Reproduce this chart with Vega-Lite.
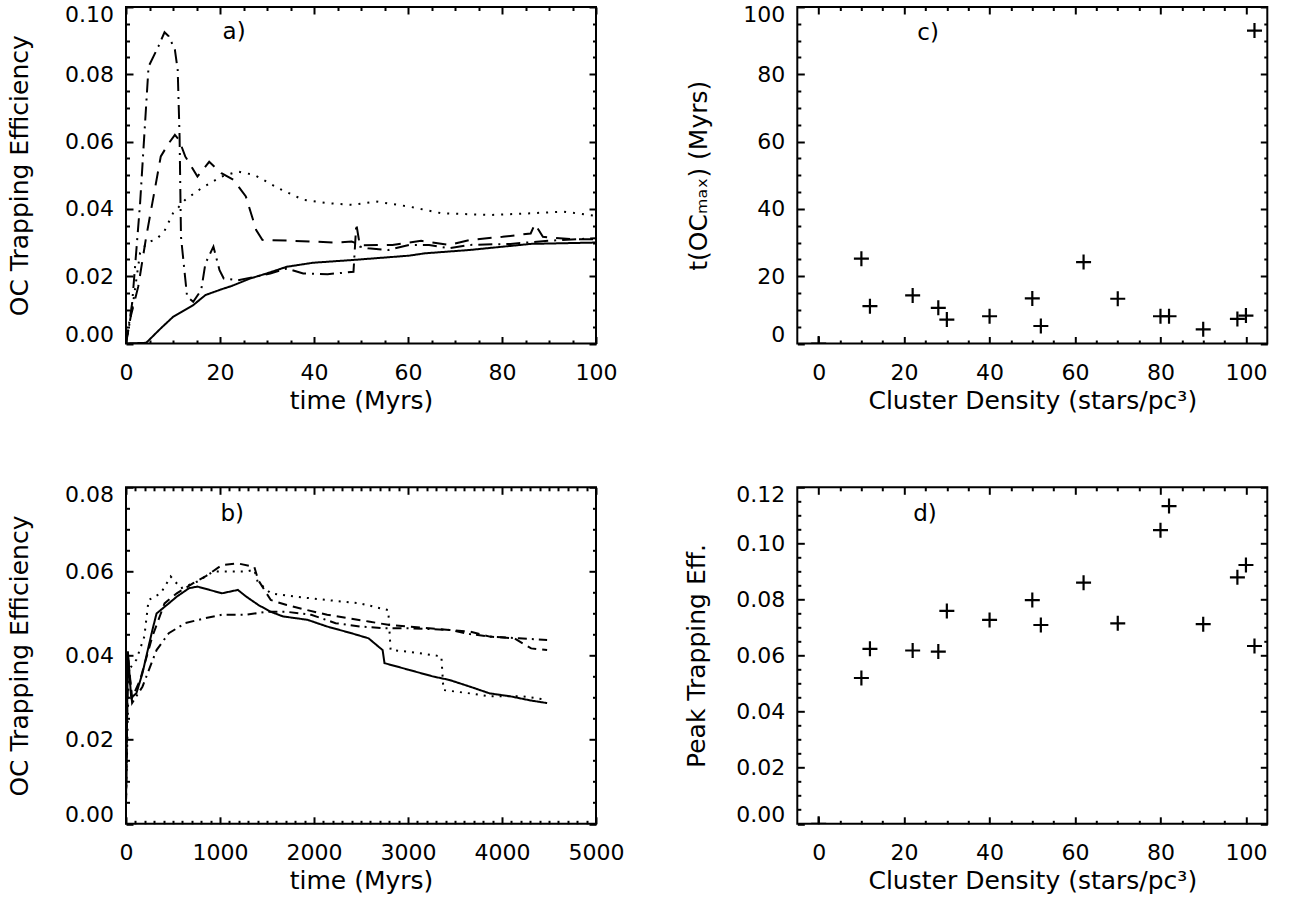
{
  "$schema": "https://vega.github.io/schema/vega-lite/v6.json",
  "background": "white",
  "padding": {"left": 5, "top": 2, "right": 5, "bottom": 5},
  "columns": 2,
  "spacing": {"row": 143.3, "column": 201.3},
  "bounds": "flush",
  "resolve": {"scale": {"strokeDash": "independent"}},
  "config": {
    "font": "DejaVu Sans",
    "view": {"stroke": "black", "strokeWidth": 2},
    "axis": {
      "domain": false, "grid": false,
      "labelFont": "DejaVu Sans", "labelFontSize": 22, "labelColor": "black",
      "titleFont": "DejaVu Sans", "titleFontSize": 25, "titleFontWeight": "normal", "titleColor": "black",
      "tickColor": "black", "tickWidth": 2, "labelOverlap": false, "labelBound": false
    }
  },
  "datasets": {
    "early": [
      {"run": "s1", "t": 0, "v": 0}, {"run": "s1", "t": 4.3, "v": 0.0002}, {"run": "s1", "t": 7.4, "v": 0.0045}, {"run": "s1", "t": 10, "v": 0.0079}, {"run": "s1", "t": 14.3, "v": 0.0114}, {"run": "s1", "t": 16.9, "v": 0.0144}, {"run": "s1", "t": 20.3, "v": 0.0161}, {"run": "s1", "t": 22.5, "v": 0.0171}, {"run": "s1", "t": 26.4, "v": 0.0193}, {"run": "s1", "t": 29.9, "v": 0.0208}, {"run": "s1", "t": 34.2, "v": 0.0228}, {"run": "s1", "t": 39.8, "v": 0.024}, {"run": "s1", "t": 48.1, "v": 0.0248}, {"run": "s1", "t": 60.2, "v": 0.0261}, {"run": "s1", "t": 63.6, "v": 0.0268}, {"run": "s1", "t": 73.2, "v": 0.0278}, {"run": "s1", "t": 86.1, "v": 0.0296}, {"run": "s1", "t": 100, "v": 0.030},
      {"run": "s2", "t": 0, "v": 0}, {"run": "s2", "t": 1, "v": 0.008}, {"run": "s2", "t": 2.6, "v": 0.0169}, {"run": "s2", "t": 4.3, "v": 0.0317}, {"run": "s2", "t": 5.6, "v": 0.0417}, {"run": "s2", "t": 7.4, "v": 0.0556}, {"run": "s2", "t": 9.1, "v": 0.0595}, {"run": "s2", "t": 10.4, "v": 0.062}, {"run": "s2", "t": 11.3, "v": 0.0605}, {"run": "s2", "t": 12.6, "v": 0.0556}, {"run": "s2", "t": 15.2, "v": 0.0496}, {"run": "s2", "t": 17.7, "v": 0.054}, {"run": "s2", "t": 20.3, "v": 0.0506}, {"run": "s2", "t": 22.9, "v": 0.0486}, {"run": "s2", "t": 25.5, "v": 0.0437}, {"run": "s2", "t": 27.7, "v": 0.0337}, {"run": "s2", "t": 29, "v": 0.0308}, {"run": "s2", "t": 34.2, "v": 0.0306}, {"run": "s2", "t": 39.4, "v": 0.0303}, {"run": "s2", "t": 44.6, "v": 0.03}, {"run": "s2", "t": 48, "v": 0.0303}, {"run": "s2", "t": 50.2, "v": 0.0292}, {"run": "s2", "t": 56.7, "v": 0.0293}, {"run": "s2", "t": 62.8, "v": 0.0305}, {"run": "s2", "t": 68.8, "v": 0.0293}, {"run": "s2", "t": 73.2, "v": 0.0308}, {"run": "s2", "t": 80.1, "v": 0.0317}, {"run": "s2", "t": 86.1, "v": 0.0327}, {"run": "s2", "t": 87, "v": 0.0355}, {"run": "s2", "t": 88.7, "v": 0.0317}, {"run": "s2", "t": 94.8, "v": 0.031}, {"run": "s2", "t": 100, "v": 0.031},
      {"run": "s3", "t": 0, "v": 0}, {"run": "s3", "t": 1.3, "v": 0.0119}, {"run": "s3", "t": 3, "v": 0.0417}, {"run": "s3", "t": 4.8, "v": 0.0823}, {"run": "s3", "t": 6.9, "v": 0.0883}, {"run": "s3", "t": 8.2, "v": 0.0925}, {"run": "s3", "t": 9.1, "v": 0.0913}, {"run": "s3", "t": 10.4, "v": 0.0873}, {"run": "s3", "t": 11, "v": 0.0813}, {"run": "s3", "t": 11.4, "v": 0.0615}, {"run": "s3", "t": 11.7, "v": 0.0317}, {"run": "s3", "t": 13, "v": 0.0139}, {"run": "s3", "t": 14.3, "v": 0.0124}, {"run": "s3", "t": 16, "v": 0.0159}, {"run": "s3", "t": 16.9, "v": 0.0238}, {"run": "s3", "t": 18.6, "v": 0.0288}, {"run": "s3", "t": 19.9, "v": 0.0218}, {"run": "s3", "t": 20.8, "v": 0.0193}, {"run": "s3", "t": 23.8, "v": 0.0188}, {"run": "s3", "t": 27.3, "v": 0.0198}, {"run": "s3", "t": 30.7, "v": 0.0208}, {"run": "s3", "t": 34.2, "v": 0.0223}, {"run": "s3", "t": 37.7, "v": 0.0208}, {"run": "s3", "t": 42.9, "v": 0.0206}, {"run": "s3", "t": 48.4, "v": 0.0213}, {"run": "s3", "t": 49, "v": 0.0355}, {"run": "s3", "t": 49.8, "v": 0.0288}, {"run": "s3", "t": 51.5, "v": 0.0283}, {"run": "s3", "t": 55.8, "v": 0.0278}, {"run": "s3", "t": 60.2, "v": 0.0293}, {"run": "s3", "t": 64.5, "v": 0.0293}, {"run": "s3", "t": 68.8, "v": 0.0283}, {"run": "s3", "t": 73.2, "v": 0.0293}, {"run": "s3", "t": 81.8, "v": 0.0296}, {"run": "s3", "t": 90.5, "v": 0.0306}, {"run": "s3", "t": 100, "v": 0.0313},
      {"run": "s4", "t": 0, "v": 0}, {"run": "s4", "t": 1.5, "v": 0.012}, {"run": "s4", "t": 3, "v": 0.027}, {"run": "s4", "t": 4.5, "v": 0.03}, {"run": "s4", "t": 6.5, "v": 0.031}, {"run": "s4", "t": 8.2, "v": 0.0335}, {"run": "s4", "t": 10, "v": 0.0387}, {"run": "s4", "t": 12.6, "v": 0.0427}, {"run": "s4", "t": 16, "v": 0.0461}, {"run": "s4", "t": 20.3, "v": 0.0496}, {"run": "s4", "t": 23.8, "v": 0.0511}, {"run": "s4", "t": 27.3, "v": 0.0501}, {"run": "s4", "t": 32.5, "v": 0.0461}, {"run": "s4", "t": 37.7, "v": 0.0427}, {"run": "s4", "t": 42.9, "v": 0.0417}, {"run": "s4", "t": 48, "v": 0.0412}, {"run": "s4", "t": 53.2, "v": 0.0422}, {"run": "s4", "t": 60.2, "v": 0.0407}, {"run": "s4", "t": 67.1, "v": 0.0387}, {"run": "s4", "t": 77.5, "v": 0.0382}, {"run": "s4", "t": 86.1, "v": 0.0387}, {"run": "s4", "t": 93.1, "v": 0.0392}, {"run": "s4", "t": 100, "v": 0.0379}
    ],
    "long": [
      {"run": "s1", "t": 0, "v": 0.005}, {"run": "s1", "t": 20, "v": 0.041}, {"run": "s1", "t": 55, "v": 0.030}, {"run": "s1", "t": 110, "v": 0.031}, {"run": "s1", "t": 175, "v": 0.0358}, {"run": "s1", "t": 280, "v": 0.046}, {"run": "s1", "t": 325, "v": 0.050}, {"run": "s1", "t": 455, "v": 0.0524}, {"run": "s1", "t": 540, "v": 0.054}, {"run": "s1", "t": 670, "v": 0.056}, {"run": "s1", "t": 760, "v": 0.0564}, {"run": "s1", "t": 890, "v": 0.0556}, {"run": "s1", "t": 1020, "v": 0.0548}, {"run": "s1", "t": 1190, "v": 0.0556}, {"run": "s1", "t": 1280, "v": 0.054}, {"run": "s1", "t": 1410, "v": 0.052}, {"run": "s1", "t": 1540, "v": 0.0504}, {"run": "s1", "t": 1670, "v": 0.0493}, {"run": "s1", "t": 1930, "v": 0.0485}, {"run": "s1", "t": 2140, "v": 0.0469}, {"run": "s1", "t": 2400, "v": 0.0453}, {"run": "s1", "t": 2580, "v": 0.0441}, {"run": "s1", "t": 2730, "v": 0.0413}, {"run": "s1", "t": 2750, "v": 0.0382}, {"run": "s1", "t": 3010, "v": 0.0366}, {"run": "s1", "t": 3270, "v": 0.035}, {"run": "s1", "t": 3440, "v": 0.0342}, {"run": "s1", "t": 3660, "v": 0.0326}, {"run": "s1", "t": 3870, "v": 0.031}, {"run": "s1", "t": 4090, "v": 0.0303}, {"run": "s1", "t": 4310, "v": 0.0293}, {"run": "s1", "t": 4480, "v": 0.0287},
      {"run": "s2", "t": 0, "v": 0.005}, {"run": "s2", "t": 20, "v": 0.0398}, {"run": "s2", "t": 65, "v": 0.030}, {"run": "s2", "t": 150, "v": 0.0342}, {"run": "s2", "t": 280, "v": 0.0445}, {"run": "s2", "t": 410, "v": 0.0524}, {"run": "s2", "t": 540, "v": 0.0548}, {"run": "s2", "t": 715, "v": 0.0572}, {"run": "s2", "t": 845, "v": 0.0588}, {"run": "s2", "t": 1020, "v": 0.0615}, {"run": "s2", "t": 1190, "v": 0.0619}, {"run": "s2", "t": 1365, "v": 0.0611}, {"run": "s2", "t": 1405, "v": 0.058}, {"run": "s2", "t": 1540, "v": 0.0532}, {"run": "s2", "t": 1710, "v": 0.052}, {"run": "s2", "t": 1930, "v": 0.0508}, {"run": "s2", "t": 2140, "v": 0.0497}, {"run": "s2", "t": 2360, "v": 0.0489}, {"run": "s2", "t": 2580, "v": 0.0481}, {"run": "s2", "t": 2790, "v": 0.0473}, {"run": "s2", "t": 3010, "v": 0.0469}, {"run": "s2", "t": 3225, "v": 0.0465}, {"run": "s2", "t": 3440, "v": 0.0461}, {"run": "s2", "t": 3660, "v": 0.0457}, {"run": "s2", "t": 3870, "v": 0.0445}, {"run": "s2", "t": 4130, "v": 0.0441}, {"run": "s2", "t": 4310, "v": 0.0417}, {"run": "s2", "t": 4480, "v": 0.0413},
      {"run": "s3", "t": 0, "v": 0.005}, {"run": "s3", "t": 20, "v": 0.040}, {"run": "s3", "t": 65, "v": 0.0287}, {"run": "s3", "t": 175, "v": 0.0326}, {"run": "s3", "t": 325, "v": 0.0413}, {"run": "s3", "t": 455, "v": 0.0453}, {"run": "s3", "t": 630, "v": 0.0477}, {"run": "s3", "t": 845, "v": 0.0489}, {"run": "s3", "t": 1020, "v": 0.0497}, {"run": "s3", "t": 1280, "v": 0.0497}, {"run": "s3", "t": 1495, "v": 0.0504}, {"run": "s3", "t": 1710, "v": 0.0504}, {"run": "s3", "t": 1970, "v": 0.0497}, {"run": "s3", "t": 2230, "v": 0.0477}, {"run": "s3", "t": 2490, "v": 0.0469}, {"run": "s3", "t": 2750, "v": 0.0465}, {"run": "s3", "t": 3010, "v": 0.0465}, {"run": "s3", "t": 3440, "v": 0.0461}, {"run": "s3", "t": 3660, "v": 0.0451}, {"run": "s3", "t": 3870, "v": 0.0445}, {"run": "s3", "t": 4180, "v": 0.0441}, {"run": "s3", "t": 4480, "v": 0.0437},
      {"run": "s4", "t": 0, "v": 0.005}, {"run": "s4", "t": 30, "v": 0.0366}, {"run": "s4", "t": 110, "v": 0.039}, {"run": "s4", "t": 195, "v": 0.0445}, {"run": "s4", "t": 240, "v": 0.0532}, {"run": "s4", "t": 370, "v": 0.0548}, {"run": "s4", "t": 475, "v": 0.0588}, {"run": "s4", "t": 585, "v": 0.056}, {"run": "s4", "t": 760, "v": 0.0576}, {"run": "s4", "t": 930, "v": 0.06}, {"run": "s4", "t": 1100, "v": 0.06}, {"run": "s4", "t": 1280, "v": 0.06}, {"run": "s4", "t": 1365, "v": 0.0604}, {"run": "s4", "t": 1400, "v": 0.0576}, {"run": "s4", "t": 1540, "v": 0.0548}, {"run": "s4", "t": 1800, "v": 0.054}, {"run": "s4", "t": 2140, "v": 0.0532}, {"run": "s4", "t": 2490, "v": 0.0524}, {"run": "s4", "t": 2790, "v": 0.0508}, {"run": "s4", "t": 2815, "v": 0.0413}, {"run": "s4", "t": 3010, "v": 0.0409}, {"run": "s4", "t": 3355, "v": 0.0398}, {"run": "s4", "t": 3377, "v": 0.0318}, {"run": "s4", "t": 3660, "v": 0.031}, {"run": "s4", "t": 3870, "v": 0.0303}, {"run": "s4", "t": 4220, "v": 0.0303}, {"run": "s4", "t": 4480, "v": 0.0295}
    ],
    "tmax": [
      {"density": 0, "t": 0}, {"density": 10, "t": 25.2}, {"density": 12, "t": 11.1}, {"density": 22, "t": 14.3}, {"density": 28, "t": 10.6}, {"density": 30, "t": 7.1}, {"density": 40, "t": 8.1}, {"density": 50, "t": 13.4}, {"density": 52, "t": 5.2}, {"density": 62, "t": 24.2}, {"density": 70, "t": 13.3}, {"density": 80, "t": 8.1}, {"density": 82, "t": 8.1}, {"density": 90, "t": 4.2}, {"density": 98, "t": 7.3}, {"density": 100, "t": 8.3}, {"density": 102, "t": 93}
    ],
    "peak": [
      {"density": 0, "p": 0}, {"density": 10, "p": 0.052}, {"density": 12, "p": 0.0624}, {"density": 22, "p": 0.0618}, {"density": 28, "p": 0.0614}, {"density": 30, "p": 0.0759}, {"density": 40, "p": 0.0727}, {"density": 50, "p": 0.0798}, {"density": 52, "p": 0.0709}, {"density": 62, "p": 0.086}, {"density": 70, "p": 0.0715}, {"density": 80, "p": 0.1047}, {"density": 82, "p": 0.1133}, {"density": 90, "p": 0.0712}, {"density": 98, "p": 0.0879}, {"density": 100, "p": 0.0923}, {"density": 102, "p": 0.0634}
    ]
  },
  "concat": [
    {
      "width": 470, "height": 336.5,
      "resolve": {"axis": {"x": "independent", "y": "independent"}},
      "layer": [
        {
          "data": {"name": "early"},
          "mark": {"type": "line", "color": "black", "strokeWidth": 2, "clip": true},
          "encoding": {
            "x": {"field": "t", "type": "quantitative", "scale": {"domain": [0, 100], "nice": false, "zero": false},
              "axis": {"orient": "bottom", "values": [0,5,10,15,20,25,30,35,40,45,50,55,60,65,70,75,80,85,90,95,100],
                "tickSize": {"condition": {"test": "datum.value % 20 === 0", "value": -7}, "value": -3.5},
                "labelExpr": "datum.value % 20 === 0 ? datum.label : ''", "format": "d", "labelFlush": false,
                "labelBaseline": "alphabetic", "labelPadding": 43,
                "title": "time (Myrs)", "titleBaseline": "alphabetic", "titleY": 65}},
            "y": {"field": "v", "type": "quantitative", "scale": {"domain": [0, 0.1], "nice": false, "zero": false},
              "axis": {"orient": "left", "values": [0,0.005,0.01,0.015,0.02,0.025,0.03,0.035,0.04,0.045,0.05,0.055,0.06,0.065,0.07,0.075,0.08,0.085,0.09,0.095,0.1],
                "tickSize": {"condition": {"test": "round(datum.value*1000) % 20 === 0", "value": -7}, "value": -3.5},
                "labelExpr": "round(datum.value*1000) % 20 === 0 ? datum.label : ''", "format": ".2f",
                "labelFlush": true, "labelFlushOffset": 3, "labelPadding": 19.5,
                "title": "OC Trapping Efficiency", "titleX": -99, "titleBaseline": "alphabetic"}},
            "strokeDash": {"field": "run", "type": "nominal", "legend": null,
              "scale": {"domain": ["s1","s2","s3","s4"], "range": [[1,0],[14,9],[14,6,2,6],[2,7]]}}
          }
        },
        {
          "data": {"name": "early"},
          "mark": {"type": "point", "opacity": 0},
          "encoding": {
            "x": {"field": "t", "type": "quantitative", "scale": {"domain": [0, 100], "nice": false, "zero": false},
              "axis": {"orient": "top", "values": [0,5,10,15,20,25,30,35,40,45,50,55,60,65,70,75,80,85,90,95,100],
                "tickSize": {"condition": {"test": "datum.value % 20 === 0", "value": -7}, "value": -3.5},
                "labels": false, "title": null}},
            "y": {"field": "v", "type": "quantitative", "scale": {"domain": [0, 0.1], "nice": false, "zero": false},
              "axis": {"orient": "right", "values": [0,0.005,0.01,0.015,0.02,0.025,0.03,0.035,0.04,0.045,0.05,0.055,0.06,0.065,0.07,0.075,0.08,0.085,0.09,0.095,0.1],
                "tickSize": {"condition": {"test": "round(datum.value*1000) % 20 === 0", "value": -7}, "value": -3.5},
                "labels": false, "title": null}}
          }
        },
        {
          "data": {"values": [{"label": "a)"}]},
          "mark": {"type": "text", "fontSize": 23, "font": "DejaVu Sans", "color": "black"},
          "encoding": {
            "x": {"datum": 23, "type": "quantitative", "axis": null},
            "y": {"datum": 0.0925, "type": "quantitative", "axis": null},
            "text": {"field": "label"}
          }
        }
      ]
    },
    {
      "width": 470, "height": 336.5,
      "resolve": {"axis": {"x": "independent", "y": "independent"}},
      "layer": [
        {
          "data": {"name": "tmax"},
          "mark": {"type": "point", "shape": "M-1,0H1M0,-1V1", "filled": false, "color": "black", "stroke": "black", "strokeWidth": 2.2, "size": 225, "opacity": 1, "clip": true},
          "encoding": {
            "x": {"field": "density", "type": "quantitative", "scale": {"domain": [-5, 105], "nice": false, "zero": false},
              "axis": {"orient": "bottom", "values": [0,5,10,15,20,25,30,35,40,45,50,55,60,65,70,75,80,85,90,95,100],
                "tickSize": {"condition": {"test": "datum.value % 20 === 0", "value": -7}, "value": -3.5},
                "labelExpr": "datum.value % 20 === 0 ? datum.label : ''", "format": "d", "labelFlush": false,
                "labelBaseline": "alphabetic", "labelPadding": 43,
                "title": "Cluster Density (stars/pc³)", "titleBaseline": "alphabetic", "titleY": 65}},
            "y": {"field": "t", "type": "quantitative", "scale": {"domain": [0, 100], "nice": false, "zero": false},
              "axis": {"orient": "left", "values": [0,5,10,15,20,25,30,35,40,45,50,55,60,65,70,75,80,85,90,95,100],
                "tickSize": {"condition": {"test": "datum.value % 20 === 0", "value": -7}, "value": -3.5},
                "labelExpr": "datum.value % 20 === 0 ? datum.label : ''", "format": "d",
                "labelFlush": true, "labelFlushOffset": 3, "labelPadding": 19.5,
                "title": "t(OCₘₐₓ) (Myrs)", "titleX": -91, "titleBaseline": "alphabetic"}}
          }
        },
        {
          "data": {"name": "tmax"},
          "mark": {"type": "point", "opacity": 0},
          "encoding": {
            "x": {"field": "density", "type": "quantitative", "scale": {"domain": [-5, 105], "nice": false, "zero": false},
              "axis": {"orient": "top", "values": [0,5,10,15,20,25,30,35,40,45,50,55,60,65,70,75,80,85,90,95,100],
                "tickSize": {"condition": {"test": "datum.value % 20 === 0", "value": -7}, "value": -3.5},
                "labels": false, "title": null}},
            "y": {"field": "t", "type": "quantitative", "scale": {"domain": [0, 100], "nice": false, "zero": false},
              "axis": {"orient": "right", "values": [0,5,10,15,20,25,30,35,40,45,50,55,60,65,70,75,80,85,90,95,100],
                "tickSize": {"condition": {"test": "datum.value % 20 === 0", "value": -7}, "value": -3.5},
                "labels": false, "title": null}}
          }
        },
        {
          "data": {"values": [{"label": "c)"}]},
          "mark": {"type": "text", "fontSize": 23, "font": "DejaVu Sans", "color": "black"},
          "encoding": {
            "x": {"datum": 25.6, "type": "quantitative", "axis": null},
            "y": {"datum": 92.4, "type": "quantitative", "axis": null},
            "text": {"field": "label"}
          }
        }
      ]
    },
    {
      "width": 470, "height": 336.5,
      "resolve": {"axis": {"x": "independent", "y": "independent"}},
      "layer": [
        {
          "data": {"name": "long"},
          "mark": {"type": "line", "color": "black", "strokeWidth": 2, "clip": true},
          "encoding": {
            "x": {"field": "t", "type": "quantitative", "scale": {"domain": [0, 5000], "nice": false, "zero": false},
              "axis": {"orient": "bottom", "values": [0,100,200,300,400,500,600,700,800,900,1000,1100,1200,1300,1400,1500,1600,1700,1800,1900,2000,2100,2200,2300,2400,2500,2600,2700,2800,2900,3000,3100,3200,3300,3400,3500,3600,3700,3800,3900,4000,4100,4200,4300,4400,4500,4600,4700,4800,4900,5000],
                "tickSize": {"condition": {"test": "datum.value % 1000 === 0", "value": -7}, "value": -3.5},
                "labelExpr": "datum.value % 1000 === 0 ? datum.label : ''", "format": "d", "labelFlush": false,
                "labelBaseline": "alphabetic", "labelPadding": 43,
                "title": "time (Myrs)", "titleBaseline": "alphabetic", "titleY": 65}},
            "y": {"field": "v", "type": "quantitative", "scale": {"domain": [0, 0.08], "nice": false, "zero": false},
              "axis": {"orient": "left", "values": [0,0.005,0.01,0.015,0.02,0.025,0.03,0.035,0.04,0.045,0.05,0.055,0.06,0.065,0.07,0.075,0.08],
                "tickSize": {"condition": {"test": "round(datum.value*1000) % 20 === 0", "value": -7}, "value": -3.5},
                "labelExpr": "round(datum.value*1000) % 20 === 0 ? datum.label : ''", "format": ".2f",
                "labelFlush": true, "labelFlushOffset": 3, "labelPadding": 19.5,
                "title": "OC Trapping Efficiency", "titleX": -99, "titleBaseline": "alphabetic"}},
            "strokeDash": {"field": "run", "type": "nominal", "legend": null,
              "scale": {"domain": ["s1","s2","s3","s4"], "range": [[1,0],[9,6],[9,5,2,5],[2,6]]}}
          }
        },
        {
          "data": {"name": "long"},
          "mark": {"type": "point", "opacity": 0},
          "encoding": {
            "x": {"field": "t", "type": "quantitative", "scale": {"domain": [0, 5000], "nice": false, "zero": false},
              "axis": {"orient": "top", "values": [0,100,200,300,400,500,600,700,800,900,1000,1100,1200,1300,1400,1500,1600,1700,1800,1900,2000,2100,2200,2300,2400,2500,2600,2700,2800,2900,3000,3100,3200,3300,3400,3500,3600,3700,3800,3900,4000,4100,4200,4300,4400,4500,4600,4700,4800,4900,5000],
                "tickSize": {"condition": {"test": "datum.value % 1000 === 0", "value": -7}, "value": -3.5},
                "labels": false, "title": null}},
            "y": {"field": "v", "type": "quantitative", "scale": {"domain": [0, 0.08], "nice": false, "zero": false},
              "axis": {"orient": "right", "values": [0,0.005,0.01,0.015,0.02,0.025,0.03,0.035,0.04,0.045,0.05,0.055,0.06,0.065,0.07,0.075,0.08],
                "tickSize": {"condition": {"test": "round(datum.value*1000) % 20 === 0", "value": -7}, "value": -3.5},
                "labels": false, "title": null}}
          }
        },
        {
          "data": {"values": [{"label": "b)"}]},
          "mark": {"type": "text", "fontSize": 23, "font": "DejaVu Sans", "color": "black"},
          "encoding": {
            "x": {"datum": 1130, "type": "quantitative", "axis": null},
            "y": {"datum": 0.0736, "type": "quantitative", "axis": null},
            "text": {"field": "label"}
          }
        }
      ]
    },
    {
      "width": 470, "height": 336.5,
      "resolve": {"axis": {"x": "independent", "y": "independent"}},
      "layer": [
        {
          "data": {"name": "peak"},
          "mark": {"type": "point", "shape": "M-1,0H1M0,-1V1", "filled": false, "color": "black", "stroke": "black", "strokeWidth": 2.2, "size": 225, "opacity": 1, "clip": true},
          "encoding": {
            "x": {"field": "density", "type": "quantitative", "scale": {"domain": [-5, 105], "nice": false, "zero": false},
              "axis": {"orient": "bottom", "values": [0,5,10,15,20,25,30,35,40,45,50,55,60,65,70,75,80,85,90,95,100],
                "tickSize": {"condition": {"test": "datum.value % 20 === 0", "value": -7}, "value": -3.5},
                "labelExpr": "datum.value % 20 === 0 ? datum.label : ''", "format": "d", "labelFlush": false,
                "labelBaseline": "alphabetic", "labelPadding": 43,
                "title": "Cluster Density (stars/pc³)", "titleBaseline": "alphabetic", "titleY": 65}},
            "y": {"field": "p", "type": "quantitative", "scale": {"domain": [0, 0.12], "nice": false, "zero": false},
              "axis": {"orient": "left", "values": [0,0.005,0.01,0.015,0.02,0.025,0.03,0.035,0.04,0.045,0.05,0.055,0.06,0.065,0.07,0.075,0.08,0.085,0.09,0.095,0.1,0.105,0.11,0.115,0.12],
                "tickSize": {"condition": {"test": "round(datum.value*1000) % 20 === 0", "value": -7}, "value": -3.5},
                "labelExpr": "round(datum.value*1000) % 20 === 0 ? datum.label : ''", "format": ".2f",
                "labelFlush": true, "labelFlushOffset": 3, "labelPadding": 19.5,
                "title": "Peak Trapping Eff.", "titleX": -93, "titleBaseline": "alphabetic"}}
          }
        },
        {
          "data": {"name": "peak"},
          "mark": {"type": "point", "opacity": 0},
          "encoding": {
            "x": {"field": "density", "type": "quantitative", "scale": {"domain": [-5, 105], "nice": false, "zero": false},
              "axis": {"orient": "top", "values": [0,5,10,15,20,25,30,35,40,45,50,55,60,65,70,75,80,85,90,95,100],
                "tickSize": {"condition": {"test": "datum.value % 20 === 0", "value": -7}, "value": -3.5},
                "labels": false, "title": null}},
            "y": {"field": "p", "type": "quantitative", "scale": {"domain": [0, 0.12], "nice": false, "zero": false},
              "axis": {"orient": "right", "values": [0,0.005,0.01,0.015,0.02,0.025,0.03,0.035,0.04,0.045,0.05,0.055,0.06,0.065,0.07,0.075,0.08,0.085,0.09,0.095,0.1,0.105,0.11,0.115,0.12],
                "tickSize": {"condition": {"test": "round(datum.value*1000) % 20 === 0", "value": -7}, "value": -3.5},
                "labels": false, "title": null}}
          }
        },
        {
          "data": {"values": [{"label": "d)"}]},
          "mark": {"type": "text", "fontSize": 23, "font": "DejaVu Sans", "color": "black"},
          "encoding": {
            "x": {"datum": 24.9, "type": "quantitative", "axis": null},
            "y": {"datum": 0.1104, "type": "quantitative", "axis": null},
            "text": {"field": "label"}
          }
        }
      ]
    }
  ]
}
